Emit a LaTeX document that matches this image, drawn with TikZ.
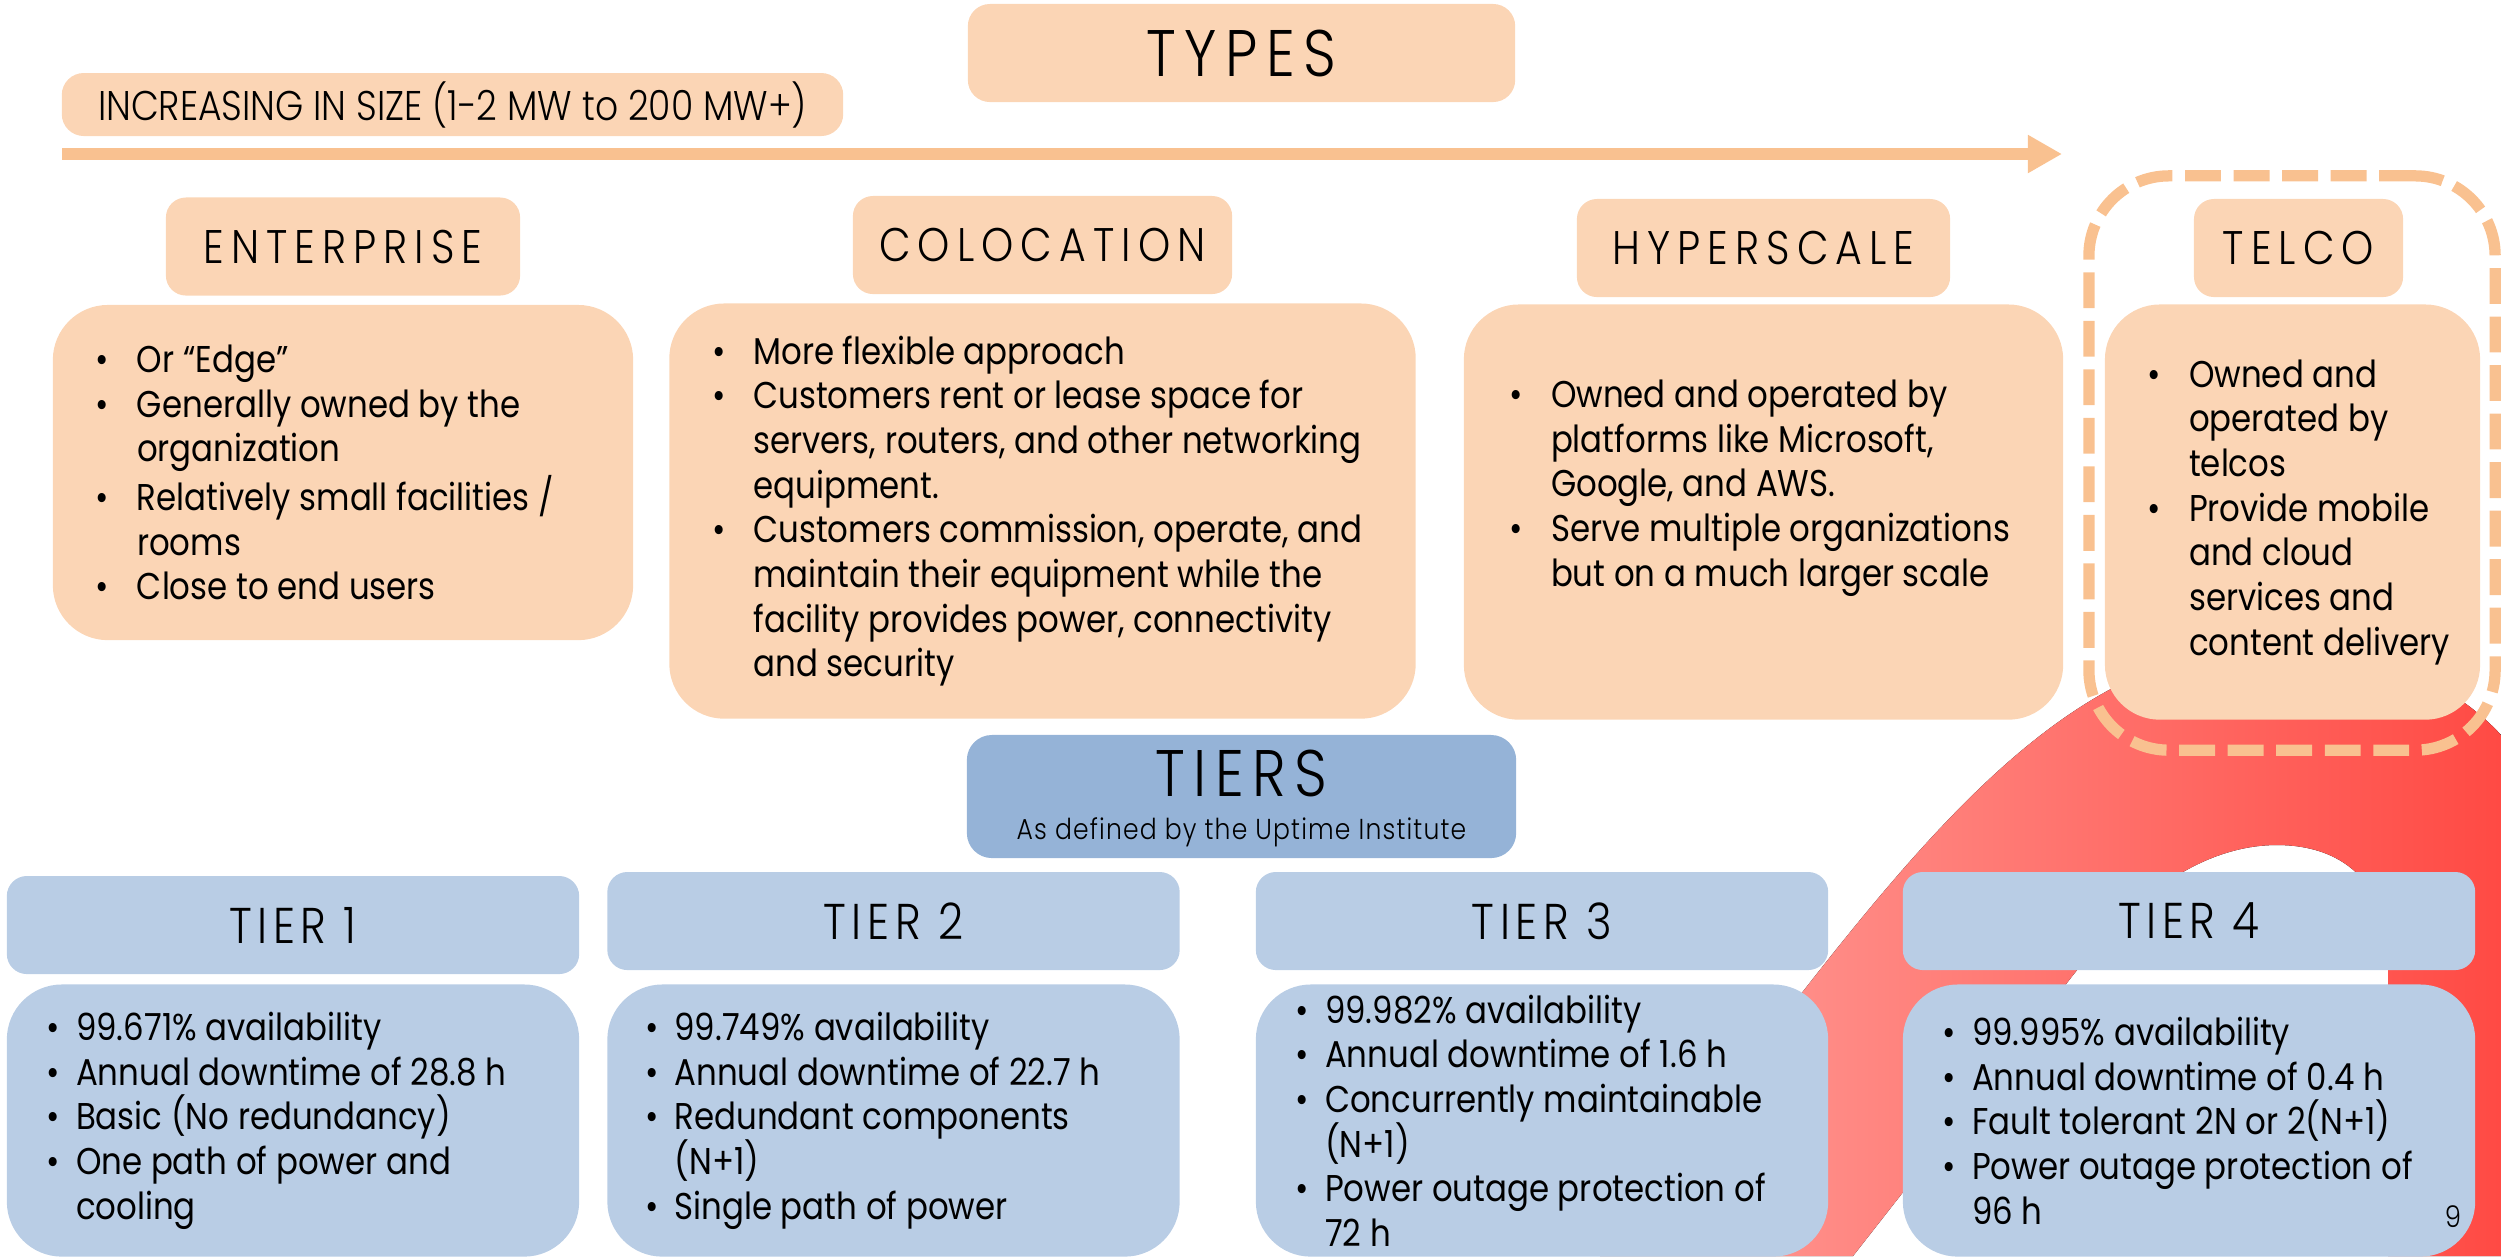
\documentclass[tikz,border=0pt]{standalone}
\usepackage{fontspec}
\setmainfont{Poppins}[FakeStretch=0.87]
\newfontfamily\lightfont{Poppins}[FakeStretch=0.87,UprightFont=* Light]
\usetikzlibrary{arrows.meta,positioning}

\definecolor{peach}{RGB}{251,213,181}
\definecolor{peachdark}{RGB}{249,193,144}
\definecolor{tierblue}{RGB}{185,205,229}
\definecolor{tiersblue}{RGB}{149,179,215}
\definecolor{ribbonlight}{RGB}{255,160,155}
\definecolor{ribbondark}{RGB}{255,74,68}

\newlength\bulw
\newcommand\bul{\makebox[\bulw][l]{•}}
\newcommand\cnt{\hspace*{\bulw}}
\newcommand\bodyfont{\fontsize{10.6}{12.7}\selectfont}
\newcommand\sizefont{\lightfont\fontsize{11.8}{13}\selectfont}
\newcommand\notefont{\lightfont\fontsize{8.2}{10}\selectfont\addfontfeature{LetterSpace=4}}
\newcommand\headfont{\lightfont\fontsize{13.4}{16}\selectfont\addfontfeature{LetterSpace=15}}
\newcommand\tierfont{\lightfont\fontsize{14.3}{17}\selectfont\addfontfeature{LetterSpace=11}}
\newcommand\titlefont{\lightfont\fontsize{18.7}{22}\selectfont\addfontfeature{LetterSpace=13}}

\begin{document}
\begin{tikzpicture}[x=0.01cm,y=-0.01cm,
    banner/.style={fill=peach,rounded corners=0.22cm,inner sep=0},
    typehead/.style={fill=peach,rounded corners=0.2cm,inner sep=0,minimum height=0.98cm,font=\headfont},
    typebody/.style={fill=peach,rounded corners=0.55cm,inner sep=0},
    tierhead/.style={fill=tierblue,rounded corners=0.2cm,inner sep=0,minimum width=5.72cm,minimum height=0.98cm,font=\tierfont},
    tierbody/.style={fill=tierblue,rounded corners=0.55cm,inner sep=0,minimum width=5.72cm,minimum height=2.72cm},
    typetext/.style={inner sep=0,align=left,font=\bodyfont\setlength\bulw{11.7pt}},
    tiertext/.style={inner sep=0,align=left,font=\bodyfont\setlength\bulw{8.3pt}},
    sizearrow/.style={draw=peachdark,line width=3.4pt,-{Triangle[length=9.7pt,width=10.2pt]}},
    telcoframe/.style={draw=peachdark,line width=3.2pt,dash pattern=on 10.2pt off 3.6pt,rounded corners=0.8cm,inner sep=0}
  ]
  \useasboundingbox (0,0) rectangle (2501,1256);

  %ribbon in the back
  \fill[left color=ribbonlight,right color=ribbondark]
    (1600,1256) .. controls (1873,906) and (2030,645) .. (2280,645)
    .. controls (2380,645) and (2460,690) .. (2501,735)
    -- (2501,1256) -- (2388,1256) -- (2388,960)
    .. controls (2388,880) and (2340,845) .. (2277,845)
    .. controls (2200,845) and (2130,900) .. (2077,970)
    -- (1853,1256) -- cycle;

  %types
  \node[banner,minimum width=5.47cm,minimum height=0.98cm,font=\titlefont] (types) at (1241.5,53) {TYPES};
  \node[banner,minimum width=7.81cm,minimum height=0.63cm,font=\sizefont] (sizeNote) at (452.5,104.5) {INCREASING IN SIZE (1-2 MW to 200 MW+)};
  \coordinate (sizeStart) at (62,154);
  \coordinate (sizeEnd) at (2062,154);
  \draw[sizearrow] (sizeStart) -- (sizeEnd);

  \node[telcoframe,minimum width=4.06cm,minimum height=5.74cm] (telcoFrame) at (2292,463) {};

  \node[typehead,minimum width=3.54cm] (enterprise) at (343,246.5) {ENTERPRISE};
  \node[typehead,minimum width=3.79cm] (colocation) at (1042.5,245) {COLOCATION};
  \node[typehead,minimum width=3.73cm] (hyperscale) at (1763.5,248) {HYPERSCALE};
  \node[typehead,minimum width=2.09cm] (telco) at (2298.5,248) {TELCO};

  \node[typebody,minimum width=5.80cm,minimum height=3.35cm,below=0.08cm of enterprise] (enterpriseBody) {};
  \node[typebody,minimum width=7.46cm,minimum height=4.15cm,below=0.08cm of colocation] (colocationBody) {};
  \node[typebody,minimum width=5.99cm,minimum height=4.15cm,below=0.06cm of hyperscale] (hyperscaleBody) {};
  \node[typebody,minimum width=3.75cm,minimum height=4.15cm,below=0.06cm of telco,xshift=-0.06cm] (telcoBody) {};

  \node[typetext,right=0.43cm of enterpriseBody.west] (enterpriseText) {%
    \bul Or “Edge”\\
    \bul Generally owned by the\\
    \cnt organization\\
    \bul Relatively small facilities /\\
    \cnt rooms\\
    \bul Close to end users};
  \node[typetext,right=0.43cm of colocationBody.west] (colocationText) {%
    \bul More flexible approach\\
    \bul Customers rent or lease space for\\
    \cnt servers, routers, and other networking\\
    \cnt equipment.\\
    \bul Customers commission, operate, and\\
    \cnt maintain their equipment while the\\
    \cnt facility provides power, connectivity\\
    \cnt and security};
  \node[typetext,right=0.46cm of hyperscaleBody.west,yshift=0.24cm] (hyperscaleText) {%
    \bul Owned and operated by\\
    \cnt platforms like Microsoft,\\
    \cnt Google, and AWS.\\
    \bul Serve multiple organizations\\
    \cnt but on a much larger scale};
  \node[typetext,right=0.43cm of telcoBody.west] (telcoText) {%
    \bul Owned and\\
    \cnt operated by\\
    \cnt telcos\\
    \bul Provide mobile\\
    \cnt and cloud\\
    \cnt services and\\
    \cnt content delivery};

  %tiers
  \node[banner,fill=tiersblue,rounded corners=0.25cm,minimum width=5.49cm,minimum height=1.23cm] (tiers) at (1241.5,796.5) {};
  \node[font=\titlefont,inner sep=0] (tiersTitle) at (1241.5,773) {TIERS};
  \node[font=\notefont,inner sep=0] (tiersNote) at (1241.5,832) {As defined by the Uptime Institute};

  \node[tierhead] (tier1) at (293,925) {TIER 1};
  \node[tierhead] (tier2) at (893.5,921) {TIER 2};
  \node[tierhead] (tier3) at (1542,921) {TIER 3};
  \node[tierhead] (tier4) at (2189,921) {TIER 4};

  \node[tierbody,below=0.09cm of tier1] (tier1Body) {};
  \node[tierbody,below=0.13cm of tier2] (tier2Body) {};
  \node[tierbody,below=0.13cm of tier3] (tier3Body) {};
  \node[tierbody,below=0.13cm of tier4] (tier4Body) {};

  \node[tiertext,right=0.40cm of tier1Body.west] (tier1Text) {%
    \bul 99.671\% availability\\
    \bul Annual downtime of 28.8 h\\
    \bul Basic (No redundancy)\\
    \bul One path of power and\\
    \cnt cooling};
  \node[tiertext,right=0.38cm of tier2Body.west] (tier2Text) {%
    \bul 99.749\% availability\\
    \bul Annual downtime of 22.7 h\\
    \bul Redundant components\\
    \cnt (N+1)\\
    \bul Single path of power};
  \node[tiertext,right=0.40cm of tier3Body.west] (tier3Text) {%
    \bul 99.982\% availability\\
    \bul Annual downtime of 1.6 h\\
    \bul Concurrently maintainable\\
    \cnt (N+1)\\
    \bul Power outage protection of\\
    \cnt 72 h};
  \node[tiertext,right=0.40cm of tier4Body.west] (tier4Text) {%
    \bul 99.995\% availability\\
    \bul Annual downtime of 0.4 h\\
    \bul Fault tolerant 2N or 2(N+1)\\
    \bul Power outage protection of\\
    \cnt 96 h};

  \node[font=\lightfont\fontsize{8.5}{10}\selectfont,inner sep=0] (pageNum) at (2453,1217) {9};
\end{tikzpicture}
\end{document}
